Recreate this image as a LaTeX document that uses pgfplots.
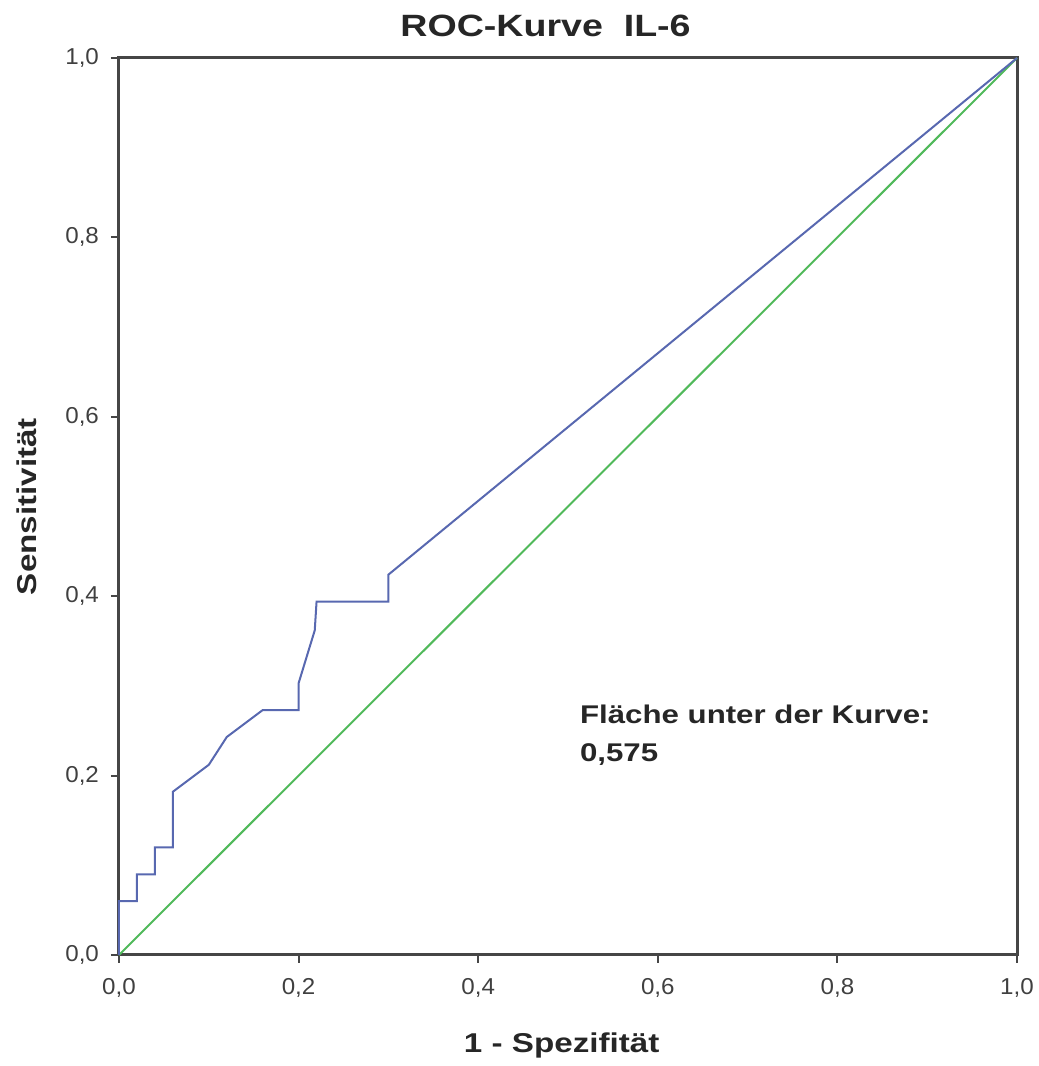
\documentclass[border=0pt]{standalone}
\usepackage{pgfplots}
\pgfplotsset{compat=1.18}
\usepackage{fontspec}
\setmainfont{Liberation Sans}
\newfontfamily\wide[FakeStretch=1.22]{Liberation Sans}
\newfontfamily\slwide[FakeStretch=1.05]{Liberation Sans}
\definecolor{roc}{RGB}{88,104,176}
\definecolor{diag}{RGB}{80,185,90}
\definecolor{frame}{RGB}{70,70,70}
\begin{document}
\begin{tikzpicture}[x=1pt,y=1pt]
\begin{axis}[
  at={(0,0)}, anchor=south west,
  width=449pt, height=448.5pt, scale only axis,
  xmin=0, xmax=1, ymin=0, ymax=1,
  xtick={0,0.2,0.4,0.6,0.8,1}, ytick={0,0.2,0.4,0.6,0.8,1},
  xticklabels={{0,0},{0,2},{0,4},{0,6},{0,8},{1,0}},
  yticklabels={{0,0},{0,2},{0,4},{0,6},{0,8},{1,0}},
  tick align=outside, tick pos=left,
  major tick length=4pt,
  tick style={line width=1pt, color=frame},
  axis line style={line width=1.5pt, color=frame},
  ticklabel style={font=\slwide\fontsize{11.5}{13}\selectfont, text=black!75},
  xticklabel style={yshift=-4pt},
  yticklabel style={xshift=-2.5pt},
  title={\textbf{ROC-Kurve\ \ IL-6}},
  title style={font=\wide\fontsize{15.4}{17}\selectfont, text=black!85,
    at={(axis description cs:0.475,1.022)}, anchor=center},
  xlabel={\textbf{1 - Spezifität}},
  ylabel={\textbf{Sensitivität}},
  label style={font=\wide\fontsize{13.6}{15}\selectfont, text=black!85},
  xlabel style={at={(axis description cs:0.493,-0.101)}, anchor=center},
  ylabel style={at={(axis description cs:-0.1025,0.5)}, anchor=center},
  clip=false,
]
\addplot[diag, line width=1pt] coordinates {(0,0) (1,1)};
\addplot[roc, line width=1pt] coordinates {
(0,0) (0,0.06) (0.02,0.06) (0.02,0.09) (0.04,0.09) (0.04,0.12)
(0.06,0.12) (0.06,0.182) (0.10,0.212) (0.12,0.243) (0.16,0.273)
(0.20,0.273) (0.20,0.303) (0.218,0.362) (0.22,0.394) (0.30,0.394)
(0.30,0.424) (1,1)};
\node[anchor=base west, inner sep=0pt, font=\wide\fontsize{12.8}{15}\selectfont\bfseries, text=black!85]
  at (axis cs:0.513,0.2586) {Fläche unter der Kurve:};
\node[anchor=base west, inner sep=0pt, font=\wide\fontsize{12.8}{15}\selectfont\bfseries, text=black!85]
  at (axis cs:0.513,0.2152) {0,575};
\end{axis}
\pgfresetboundingbox
\path[use as bounding box] (-59.5,-55.5) rectangle (460,477.5);
\end{tikzpicture}
\end{document}
